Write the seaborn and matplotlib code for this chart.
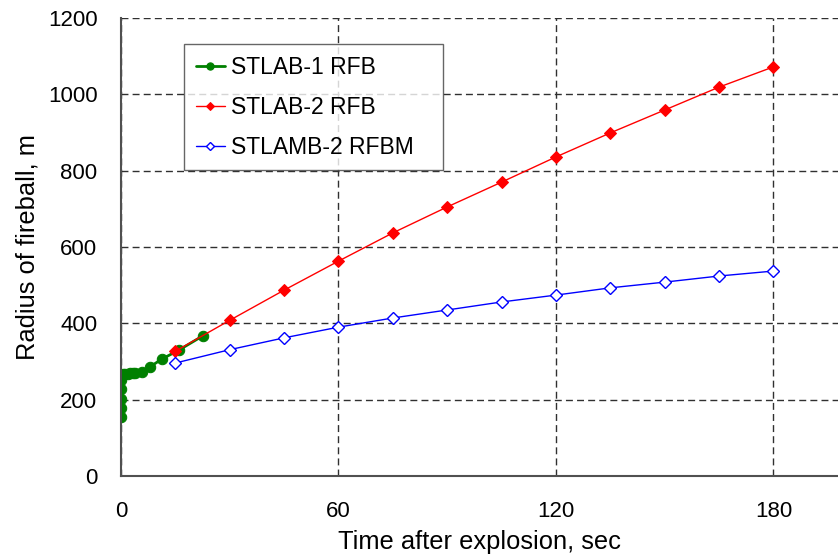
import numpy as np
import pandas as pd
import matplotlib
matplotlib.use("Agg")
import matplotlib.pyplot as plt
import seaborn as sns

# data
t_stlab1 = [0, 0, 0, 0, 0, 0.2, 0.6, 1.2, 1.8, 2.5, 3.2, 4.0, 5.7, 8.0, 11.2, 16.0, 22.7]
r_stlab1 = [155, 177, 201, 227, 251, 265, 267, 268, 268, 269, 269, 270, 273, 286, 306, 330, 368]

t_stlab2 = [15, 30, 45, 60, 75, 90, 105, 120, 135, 150, 165, 180]
r_stlab2 = [327, 408, 487, 563, 637, 705, 770, 836, 899, 959, 1019, 1072]

t_stlamb2 = [15, 30, 45, 60, 75, 90, 105, 120, 135, 150, 165, 180]
r_stlamb2 = [296, 331, 362, 390, 414, 435, 456, 474, 493, 508, 524, 537]

sns.set_style("white")
plt.rcParams['font.family'] = ['Liberation Sans', 'DejaVu Sans']

fig = plt.figure(figsize=(8.38, 5.55), dpi=100)
ax = fig.add_axes([121/838, 1 - 476/555, 1 - 121/838, (476 - 18)/555])

sns.lineplot(x=t_stlab1, y=r_stlab1, ax=ax, color="green", lw=2, marker="o",
             markersize=7.5, markeredgecolor="green", label="STLAB-1 RFB",
             sort=False, estimator=None)
sns.lineplot(x=t_stlab2, y=r_stlab2, ax=ax, color="red", lw=1, marker="D",
             markersize=6.5, markeredgecolor="red", label="STLAB-2 RFB",
             estimator=None)
sns.lineplot(x=t_stlamb2, y=r_stlamb2, ax=ax, color="blue", lw=1, marker="D",
             markersize=6.5, markerfacecolor="white", markeredgecolor="blue",
             markeredgewidth=1, label="STLAMB-2 RFBM", estimator=None)

ax.set_xlim(0, 197.8)
ax.set_ylim(0, 1200)
ax.set_xticks([0, 60, 120, 180])
ax.set_xticks(np.arange(0, 200, 10), minor=True)
ax.set_yticks(np.arange(0, 1201, 200))

ax.grid(True, which="major", linestyle=(0, (5, 3)), color="#303030", lw=1)
ax.set_axisbelow(True)
for s in ["top", "right"]:
    ax.spines[s].set_visible(False)
for s in ["left", "bottom"]:
    ax.spines[s].set_color("#505050")
    ax.spines[s].set_linewidth(1.5)

ax.tick_params(axis="both", which="major", direction="in", length=7, width=1,
               color="#404040", labelsize=16, labelcolor="black")
ax.tick_params(axis="y", which="major", pad=17)
ax.tick_params(axis="x", which="major", pad=18)
ax.tick_params(axis="x", which="minor", direction="in", length=4, width=1,
               color="#404040")

ax.set_xlabel("Time after explosion, sec", fontsize=18.4, labelpad=6, color="black")
ax.set_ylabel("Radius of fireball, m", fontsize=18.4, labelpad=6, color="black")

# legend box spans roughly x 184..443 px, top at 44 px
leg = ax.legend(loc="upper left", bbox_to_anchor=(0.088, 0.943, 0.361, 0.0),
                mode="expand", fontsize=16.5,
                frameon=True, fancybox=False, edgecolor="#404040",
                handlelength=1.3, handletextpad=0.25, borderpad=0.5,
                labelspacing=0.75, borderaxespad=0, markerscale=0.7)
leg.get_frame().set_linewidth(1)
for txt in leg.get_texts():
    txt.set_color("black")

fig.savefig("out.png", dpi=100)
